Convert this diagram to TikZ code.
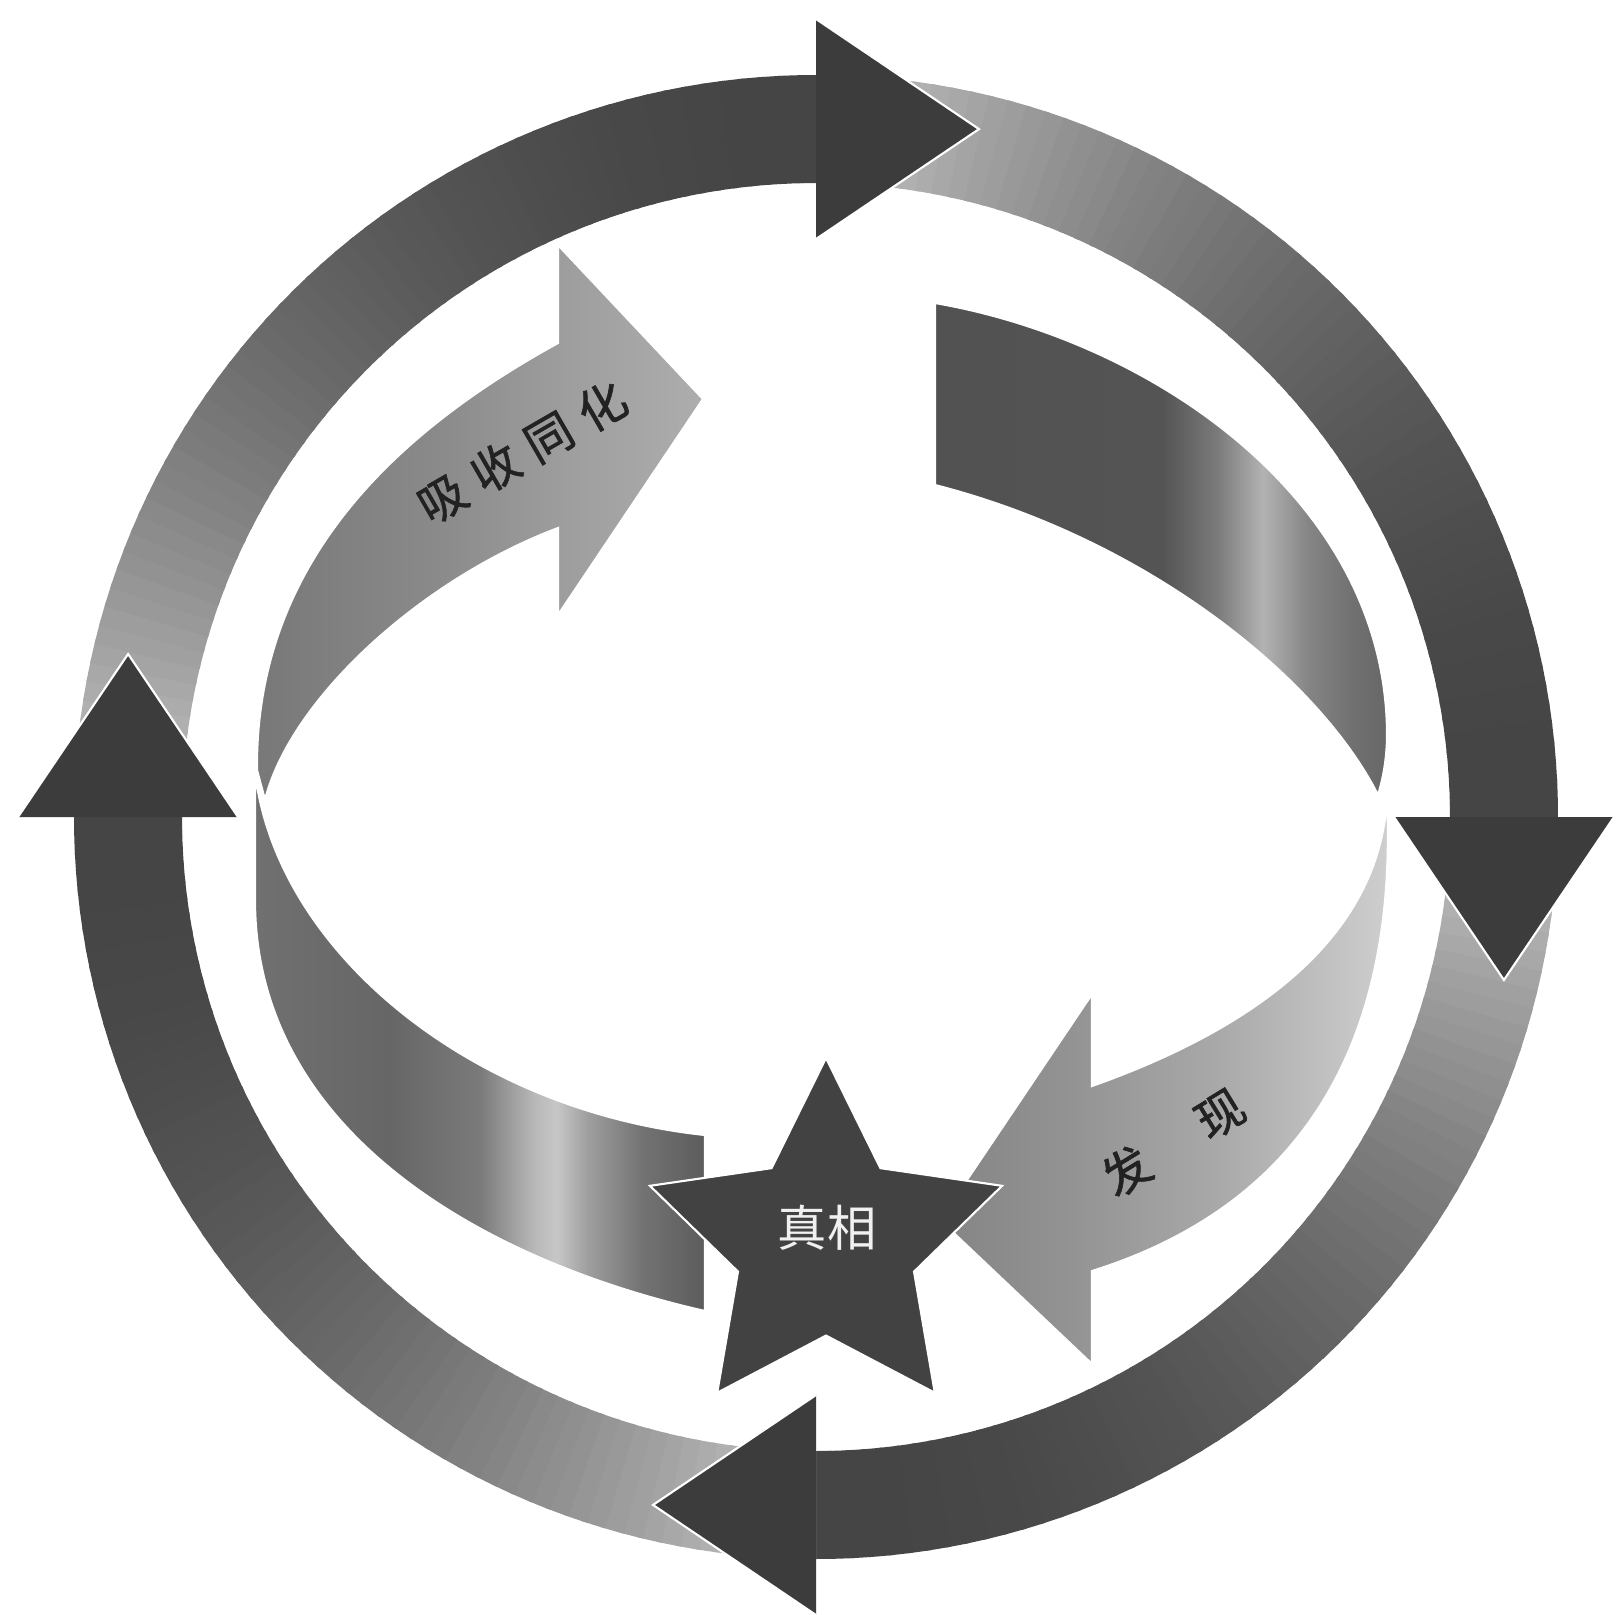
\documentclass[tikz,border=0pt]{standalone}
\usepackage{fontspec}
\newfontfamily\cjk{Noto Sans CJK SC}
\newfontfamily\cjklbl[FakeBold=1.2]{Noto Sans CJK SC}
\usetikzlibrary{shapes.geometric}
\definecolor{Ink}{HTML}{222222}
\definecolor{HeadGray}{HTML}{3C3C3C}
\definecolor{StarGray}{HTML}{424242}
\definecolor{Pale}{HTML}{F0F0F0}
\definecolor{ga1}{gray}{0.47}
\definecolor{ga2}{gray}{0.54}
\definecolor{ga3}{gray}{0.62}
\definecolor{ga4}{gray}{0.68}
\definecolor{gb1}{gray}{0.32}
\definecolor{gb2}{gray}{0.33}
\definecolor{gb3}{gray}{0.48}
\definecolor{gb4}{gray}{0.70}
\definecolor{gb5}{gray}{0.52}
\definecolor{gb6}{gray}{0.44}
\definecolor{gb7}{gray}{0.40}
\definecolor{gc1}{gray}{0.44}
\definecolor{gc2}{gray}{0.40}
\definecolor{gc3}{gray}{0.48}
\definecolor{gc4}{gray}{0.72}
\definecolor{gc5}{gray}{0.78}
\definecolor{gc6}{gray}{0.62}
\definecolor{gc7}{gray}{0.45}
\definecolor{gc8}{gray}{0.36}
\definecolor{gd1}{gray}{0.52}
\definecolor{gd2}{gray}{0.58}
\definecolor{gd3}{gray}{0.66}
\definecolor{gd4}{gray}{0.82}
\pgfdeclarehorizontalshading{ribbonA}{100bp}{color(0bp)=(ga1); color(25bp)=(ga1); color(45bp)=(ga2); color(60bp)=(ga3); color(75bp)=(ga4); color(100bp)=(ga4)}
\pgfdeclarehorizontalshading{ribbonB}{100bp}{color(0bp)=(gb1); color(25bp)=(gb1); color(50bp)=(gb2); color(56bp)=(gb3); color(61bp)=(gb4); color(66bp)=(gb5); color(71bp)=(gb6); color(75bp)=(gb7); color(100bp)=(gb7)}
\pgfdeclarehorizontalshading{ribbonC}{100bp}{color(0bp)=(gc1); color(25bp)=(gc1); color(40bp)=(gc2); color(50bp)=(gc3); color(56bp)=(gc4); color(58.5bp)=(gc5); color(62bp)=(gc6); color(68bp)=(gc7); color(75bp)=(gc8); color(100bp)=(gc8)}
\pgfdeclarehorizontalshading{ribbonD}{100bp}{color(0bp)=(gd1); color(25bp)=(gd1); color(40bp)=(gd2); color(55bp)=(gd3); color(75bp)=(gd4); color(100bp)=(gd4)}
\tikzset{
  ringhead/.style={fill=HeadGray},
  ringrim/.style={draw=white, line width=0.6pt},
  ribbon/.style={draw=white, line width=0.6pt},
  lbl/.style={font=\cjklbl\fontsize{13.5}{14}\selectfont, text=Ink, inner sep=0pt},
  starbox/.style={star, star points=5, star point ratio=2, minimum size=3.7cm, inner sep=0pt, fill=StarGray, draw=white, line width=0.6pt},
  startext/.style={font=\cjk\fontsize{14}{15}\selectfont, text=Pale, inner sep=0pt}
}

\begin{document}
\begin{tikzpicture}[x=0.01cm, y=-0.01cm]
\path[use as bounding box, fill=white] (0,0) rectangle (1618,1614);
\begin{scope}[shift={(816,817)}]
\foreach \s in {-180,-90,0,90}
  \foreach \k in {0,...,59}{
    \pgfmathsetmacro\ga{\s+1.5*\k}
    \pgfmathsetmacro\gb{\ga+1.9}
    \pgfmathsetmacro\lev{0.27+0.5*(1-\k/59)^2}
    \definecolor{ringseg}{gray}{\lev}
    \fill[ringseg] (\ga:634) arc[start angle=\ga, end angle=\gb, radius=634] -- (\gb:742) arc[start angle=\gb, end angle=\ga, radius=742] -- cycle;
  }
\foreach \a in {-90,0,90,180}{
  \fill[ringhead] (\a:578) -- (\a:798) -- (\a+13.33:707) -- cycle;
  \draw[ringrim] (\a:798) -- (\a+13.33:707) -- (\a:578);
}
\end{scope}
\shade[ribbon, shading=ribbonB] (935,303) .. controls (1150,340) and (1390,500) .. (1387,740) .. controls (1386,765) and (1382,782) .. (1378,795) .. controls (1320,680) and (1150,540) .. (935,485) -- cycle;
\shade[ribbon, shading=ribbonA] (703,399) -- (558,245) -- (558,343) .. controls (400,430) and (255,560) .. (257,770) -- (265,800) .. controls (290,700) and (420,580) .. (558,528) -- (558,615) -- cycle;
\shade[ribbon, shading=ribbonD] (940,1220) -- (1092,994) -- (1092,1086) .. controls (1250,1030) and (1380,940) .. (1387,797) .. controls (1400,1080) and (1270,1215) .. (1092,1271) -- (1092,1364) -- cycle;
\shade[ribbon, shading=ribbonC] (255,771) .. controls (275,950) and (470,1110) .. (705,1135) -- (705,1311) .. controls (480,1260) and (255,1130) .. (255,900) -- cycle;
\node[starbox] (star) at (826,1243) {};
\node[startext] (truth) at (827,1228) {真相};
\node[lbl, rotate=30] (absorb) at (522,452) {吸\hspace{1.4mm}收\hspace{1.4mm}同\hspace{1.4mm}化};
\node[lbl, rotate=31.5] (discover) at (1173,1142) {发\hspace{6.2mm}现};
\end{tikzpicture}
\end{document}
